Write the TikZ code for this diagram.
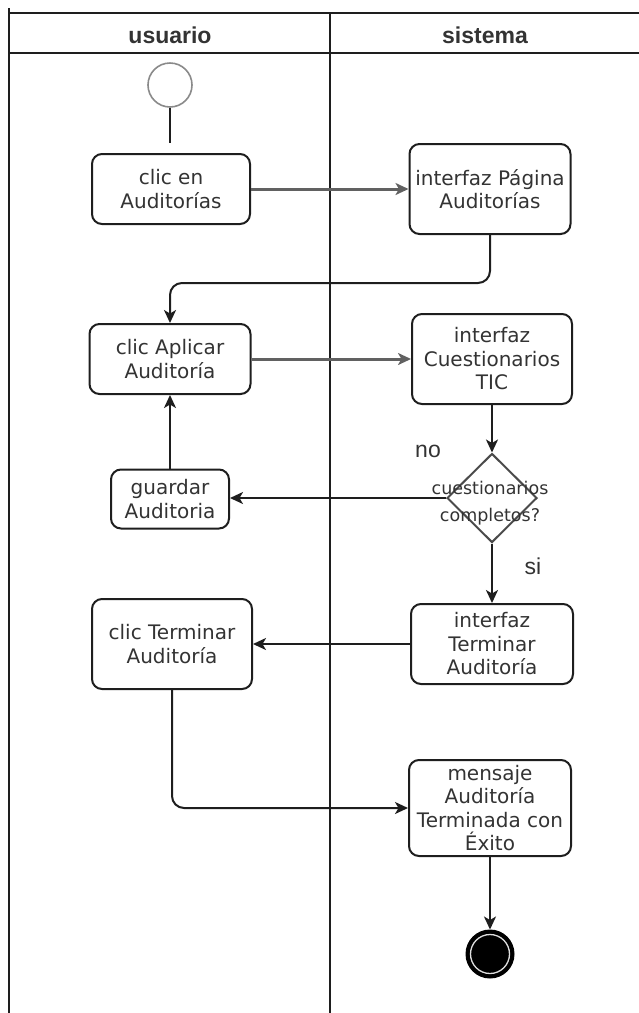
\documentclass[tikz,border=0pt]{standalone}
\usepackage{fontspec}
\setmainfont{DejaVu Sans}
\newfontfamily\lanefont{Liberation Sans}
\usetikzlibrary{shapes.geometric,arrows.meta}
\definecolor{ink}{HTML}{1E1E1E}
\definecolor{txt}{HTML}{333333}
\definecolor{ringgray}{HTML}{8A8A8A}
\begin{document}
\begin{tikzpicture}[x=1pt,y=-1pt,
  lane/.style={draw=ink,line width=2pt},
  lanehead/.style={font=\lanefont\bfseries\fontsize{23}{26}\selectfont,text=txt},
  act/.style={draw=ink,line width=2pt,rounded corners=10pt,fill=white,align=center,
    text=txt,font=\fontsize{20}{23.5}\selectfont,inner sep=0pt},
  decision/.style={diamond,draw=ink!80,line width=2pt,inner sep=0pt,aspect=1},
  guard/.style={font=\lanefont\fontsize{23}{26}\selectfont,text=txt},
  flow/.style={draw=ink,line width=2pt,-{Stealth[length=13pt,width=12pt,inset=3.5pt]}},
  heavyflow/.style={draw=ink!70,line width=3pt,-{Stealth[length=13pt,width=12pt,inset=3.5pt]}},
]
\useasboundingbox (0,0) rectangle (639,1013);

% swimlanes
\draw[lane] (9,13) -- (639,13);
\draw[lane] (9,53) -- (639,53);
\draw[lane] (9,8) -- (9,1013);
\draw[lane] (330,13) -- (330,1013);
\node[lanehead] (hu) at (170,35) {usuario};
\node[lanehead] (hs) at (485,35) {sistema};

% start state
\node[circle,draw=ringgray,line width=1.6pt,minimum size=44pt,inner sep=0pt] (start) at (170,85) {};
\coordinate (startend) at (170,143);

% activities
\node[act,minimum width=158pt,minimum height=70pt] (b1) at (171,189) {clic en\\Auditorías};
\node[act,minimum width=161pt,minimum height=90pt] (b2) at (490,189) {interfaz Página\\Auditorías};
\node[act,minimum width=161pt,minimum height=70pt] (b3) at (170,359) {clic Aplicar\\Auditoría};
\node[act,minimum width=160pt,minimum height=90pt] (b4) at (492,359) {interfaz\\Cuestionarios\\TIC};
\node[decision,minimum width=90pt,minimum height=89pt] (d) at (492,498) {};
\node[text=txt,align=center,font=\fontsize{17.5}{27}\selectfont] (dt) at (490,503) {cuestionarios\\completos?};
\node[act,minimum width=118pt,minimum height=59pt] (b5) at (170,499) {guardar\\Auditoria};
\node[act,minimum width=162pt,minimum height=80pt] (b6) at (492,644) {interfaz\\Terminar\\Auditoría};
\node[act,minimum width=160pt,minimum height=90pt] (b7) at (172,644) {clic Terminar\\Auditoría};
\node[act,minimum width=162pt,minimum height=96pt] (b8) at (490,808) {mensaje\\Auditoría\\Terminada con\\Éxito};

% final state
\node[circle,draw=black,fill=black,line width=1pt,minimum size=48pt,inner sep=0pt] (final) at (490,954) {};
\node[circle,draw=white!75!gray,line width=1.3pt,minimum size=39pt,inner sep=0pt] (finalring) at (final) {};

% guard labels
\node[guard] (lno) at (428,451) {no};
\node[guard] (lsi) at (533,566) {si};

% transitions
\draw[draw=ink,line width=2pt] (start) -- (startend);
\draw[heavyflow] (b1) -- (b2);
\draw[flow,rounded corners=12pt] (b2.south) -- (490,283) -- (170,283) -- (b3.north);
\draw[heavyflow] (b3) -- (b4);
\draw[flow] (b4) -- (d);
\draw[flow] (d.west) -- (d.west -| b5.east);
\draw[flow] (b5) -- (b3);
\draw[flow] (d.south) -- (d.south |- b6.north);
\draw[flow] (b6.west) -- (b6.west -| b7.east);
\draw[flow,rounded corners=12pt] (b7.south) -- (172,808) -- (b8.west);
\draw[flow] (b8) -- (final);
\end{tikzpicture}
\end{document}
